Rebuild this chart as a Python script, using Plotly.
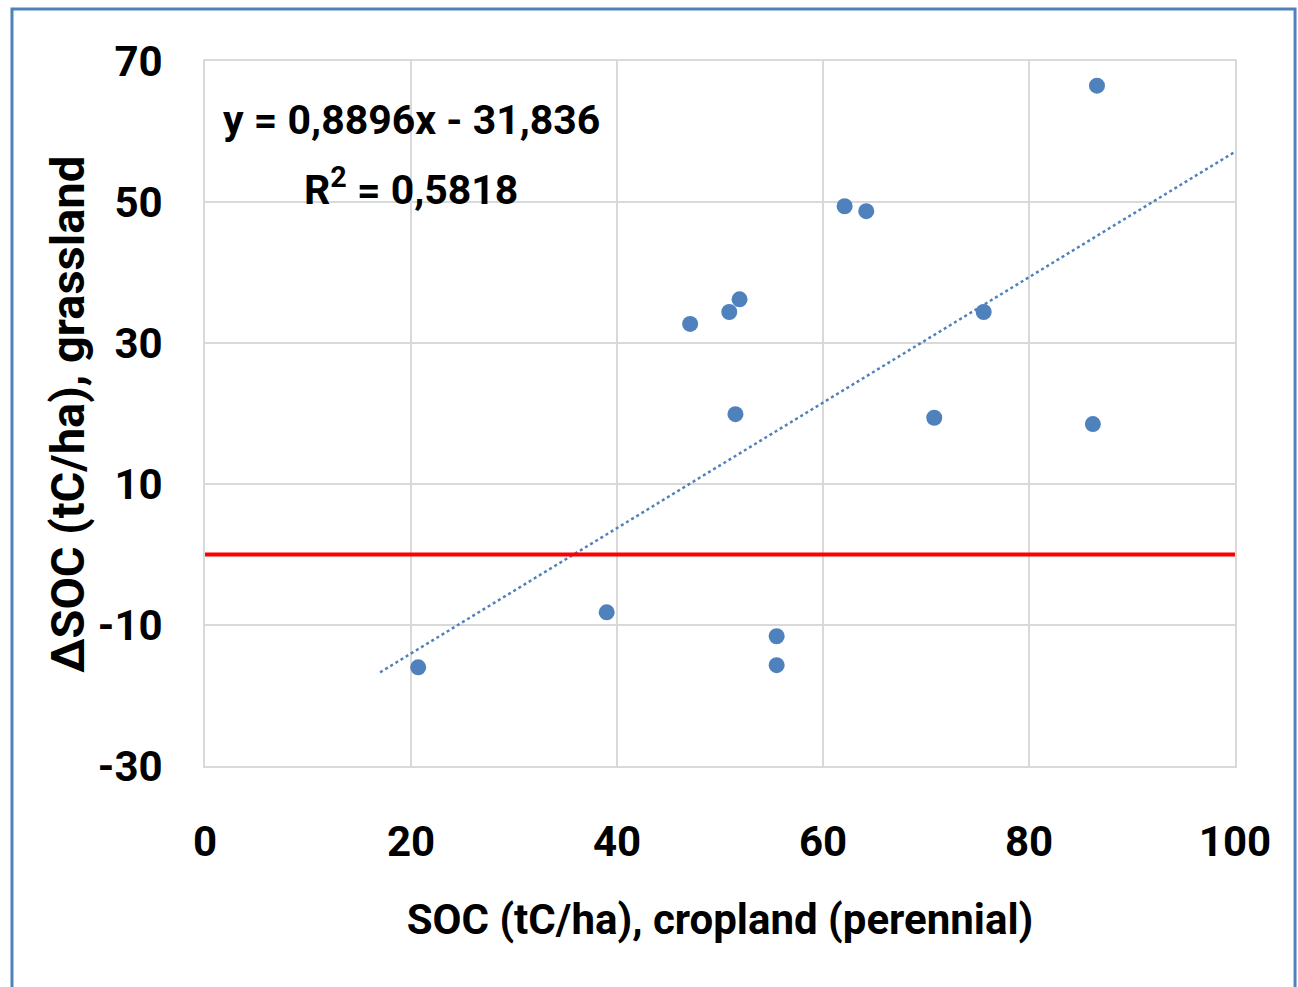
import plotly.graph_objects as go

# Data
soc_cropland = [20.7, 39.0, 47.1, 50.9, 51.9, 51.5, 55.5, 55.5, 62.1, 64.2, 70.8, 75.6, 86.2, 86.6]
delta_soc_grassland = [-16.0, -8.2, 32.7, 34.4, 36.2, 19.9, -11.6, -15.7, 49.4, 48.7, 19.4, 34.4, 18.5, 66.5]

# Linear trendline (Excel label): y = 0,8896x - 31,836 ; R² = 0,5818
slope = 0.8896
intercept = -31.836
trend_x = [17.0, 100.0]
trend_y = [slope * v + intercept for v in trend_x]

x_ticks = [0, 20, 40, 60, 80, 100]
y_ticks = [-30, -10, 10, 30, 50, 70]

FONT = "Roboto, Liberation Sans, sans-serif"
BLUE = "#4F81BD"

fig = go.Figure()
fig.add_trace(go.Scatter(
    x=trend_x, y=trend_y, mode="lines",
    line=dict(color=BLUE, width=2.5, dash="dot"),
    hoverinfo="skip", showlegend=False,
))
fig.add_trace(go.Scatter(
    x=soc_cropland, y=delta_soc_grassland, mode="markers",
    marker=dict(color=BLUE, size=16, line=dict(width=0)),
    showlegend=False,
))

fig.add_shape(type="line", xref="paper", yref="y", x0=0, x1=1, y0=0, y1=0,
              line=dict(color="#FF0000", width=4))

# outer chart frame
fig.add_shape(type="rect", xref="paper", yref="paper",
              x0=-0.1874, x1=1.0583, y0=-0.32, y1=1.0738,
              line=dict(color=BLUE, width=3), layer="below")

fig.add_annotation(x=20, y=61.6, xref="x", yref="y", text="y = 0,8896x - 31,836",
                   showarrow=False, font=dict(family=FONT, size=41, color="black", weight="bold"))
fig.add_annotation(x=20, y=52.1, xref="x", yref="y", text="R<sup>2</sup> = 0,5818",
                   showarrow=False, font=dict(family=FONT, size=41, color="black", weight="bold"))

# y-axis title
fig.add_annotation(x=-0.133, y=0.498, xref="paper", yref="paper", text="ΔSOC (tC/ha), grassland",
                   textangle=-90, showarrow=False, xanchor="center", yanchor="middle",
                   font=dict(family=FONT, size=47, color="black", weight="bold"))

fig.update_layout(
    width=1298, height=987,
    margin=dict(l=205, r=63, t=61, b=221),
    paper_bgcolor="white", plot_bgcolor="white",
    font=dict(family=FONT, color="black", weight="bold"),
    xaxis=dict(
        range=[0, 100], tickvals=x_ticks, ticktext=[str(v) for v in x_ticks],
        showgrid=True, gridcolor="#D9D9D9", gridwidth=2,
        showline=True, linecolor="#D9D9D9", linewidth=2, mirror=True,
        zeroline=False, ticks="", ticklabelstandoff=38,
        tickfont=dict(family=FONT, size=42, color="black", weight="bold"),
        title=dict(text="SOC (tC/ha), cropland (perennial)", standoff=39,
                   font=dict(family=FONT, size=42, color="black", weight="bold")),
    ),
    yaxis=dict(
        range=[-30, 70], tickvals=y_ticks, ticktext=[str(v) for v in y_ticks],
        showgrid=True, gridcolor="#D9D9D9", gridwidth=2,
        showline=True, linecolor="#D9D9D9", linewidth=2, mirror=True,
        zeroline=False, ticks="", ticklabelstandoff=32,
        tickfont=dict(family=FONT, size=42, color="black", weight="bold"),
    ),
)

fig.write_html("out.html")
